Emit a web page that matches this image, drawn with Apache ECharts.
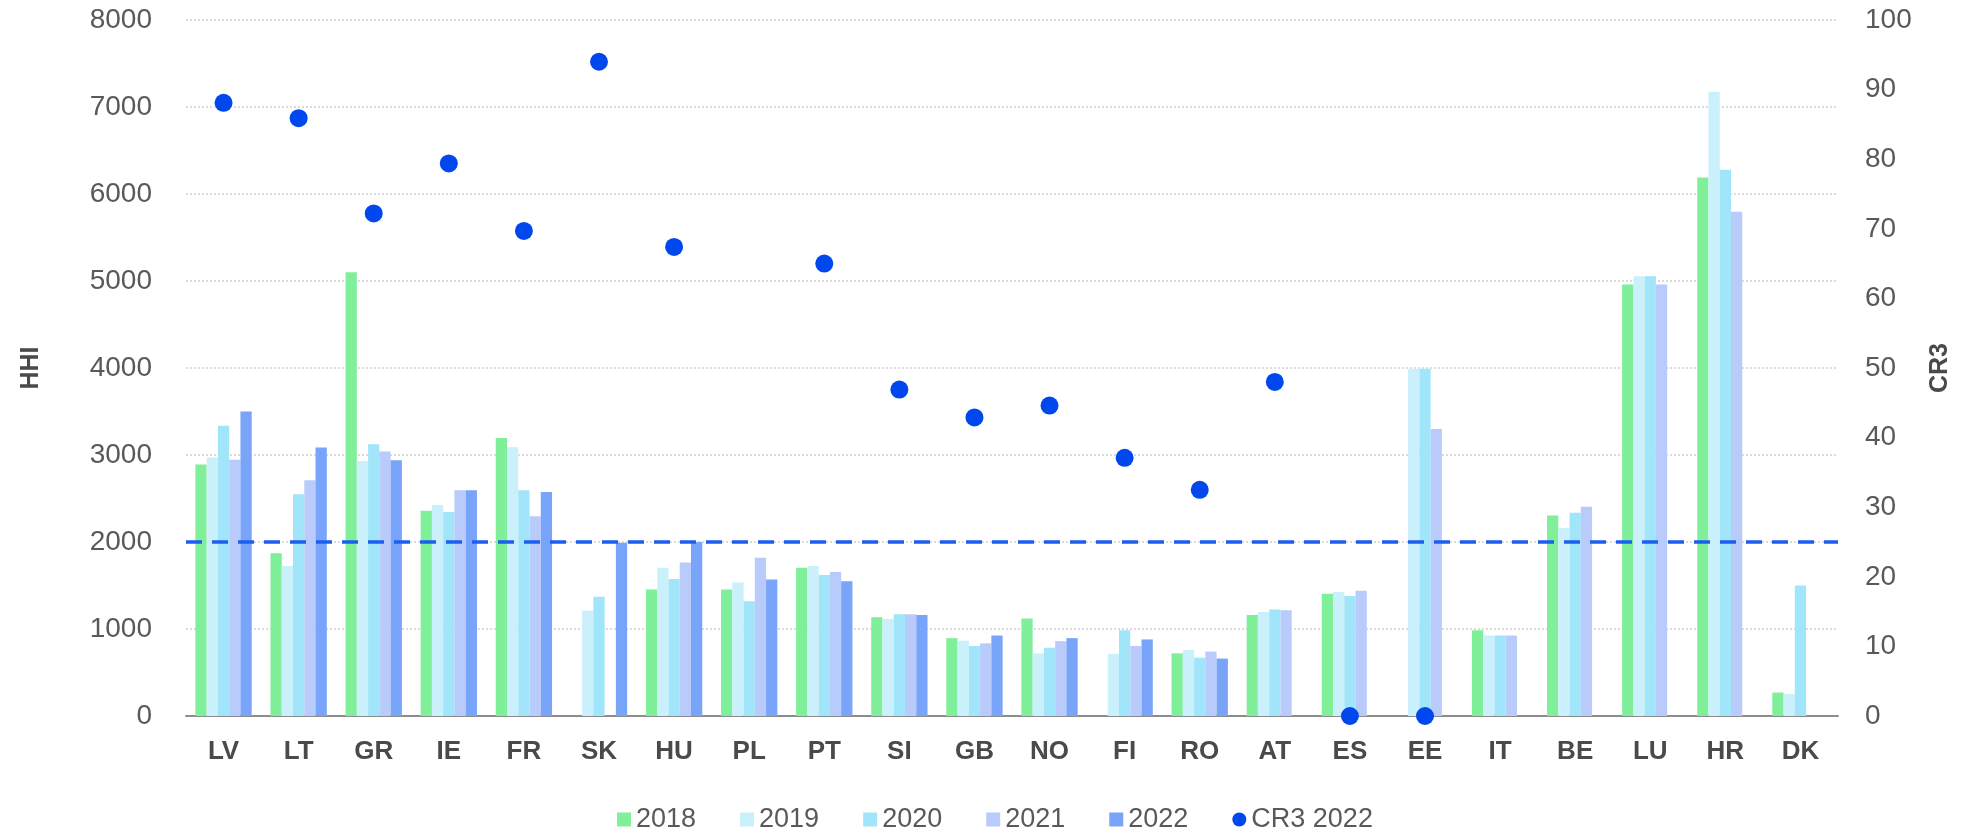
<!DOCTYPE html>
<html>
<head>
<meta charset="utf-8">
<script src="https://cdn.jsdelivr.net/npm/echarts@6/dist/echarts.min.js"></script>
<style>
html,body{margin:0;padding:0;background:#fff;}
#chart{width:1967px;height:832px;}
</style>
</head>
<body>
<div id="chart"></div>
<script>
const categories = ['LV','LT','GR','IE','FR','SK','HU','PL','PT','SI','GB','NO','FI','RO','AT','ES','EE','IT','BE','LU','HR','DK'];
const hhi2018 = [2890,1870,5100,2360,3195,null,1455,1455,1705,1135,895,1120,null,720,1160,1405,null,985,2305,4960,6190,270];
const hhi2019 = [2970,1725,2930,2425,3090,1210,1705,1535,1725,1115,865,720,715,760,1195,1425,3990,925,2160,5055,7175,255];
const hhi2020 = [3335,2550,3125,2345,2595,1370,1575,1320,1620,1170,805,785,985,670,1225,1380,3990,925,2335,5055,6280,1500];
const hhi2021 = [2945,2710,3040,2595,2295,null,1765,1820,1655,1170,835,860,805,740,1215,1440,3300,925,2405,4960,5795,null];
const hhi2022 = [3500,3085,2940,2595,2575,1990,2000,1570,1550,1160,925,895,880,660,null,null,null,null,null,null,null,null];
const cr3_2022 = [88.1,85.9,72.2,79.4,69.7,94.0,67.4,null,65.0,46.9,42.9,44.6,37.1,32.5,48.0,0,0,null,null,null,null,null];
const threshold = 2000;
const leftTicks = {min:0, max:8000, interval:1000};
const rightTicks = {min:0, max:100, interval:10};

const colors = {
  y2018:'#80ef99', y2019:'#caf0fb', y2020:'#a1e5fb', y2021:'#b8cbfb', y2022:'#78a4fa', cr3:'#0048ee', line:'#1c5ff0'
};

const chart = echarts.init(document.getElementById('chart'), null, {renderer:'canvas'});
const labelFont = 'Liberation Sans, Arial, sans-serif';

function barSeries(name, data, color, extra){
  return Object.assign({
    name: name, type:'bar', data: data, yAxisIndex:0,
    itemStyle:{color: color},
    barGap:'0%', barCategoryGap:'25%',
    emphasis:{disabled:true}
  }, extra || {});
}

const option = {
  animation:false,
  backgroundColor:'#ffffff',
  grid:{left:186, right:129, top:20, bottom:116, containLabel:false},
  legend:{
    left:612, top:801,
    itemWidth:14, itemHeight:14, itemGap:44,
    textStyle:{fontSize:27, color:'#595959', fontFamily:labelFont},
    data:[
      {name:'2018', icon:'rect'},
      {name:'2019', icon:'rect'},
      {name:'2020', icon:'rect'},
      {name:'2021', icon:'rect'},
      {name:'2022', icon:'rect'},
      {name:'CR3 2022', icon:'circle'}
    ]
  },
  xAxis:{
    type:'category', data: categories,
    axisLine:{show:true, lineStyle:{color:'#8c8c8c', width:2}},
    axisTick:{show:false},
    axisLabel:{fontSize:26, fontWeight:'bold', color:'#4a4a4a', margin:23, fontFamily:labelFont, interval:0}
  },
  yAxis:[
    {
      type:'value', min:leftTicks.min, max:leftTicks.max, interval:leftTicks.interval,
      name:'HHI', nameLocation:'middle', nameGap:142, nameRotate:90,
      nameTextStyle:{fontSize:25, fontWeight:'bold', color:'#4a4a4a', fontFamily:labelFont},
      axisLine:{show:false}, axisTick:{show:false},
      axisLabel:{fontSize:28, color:'#595959', margin:34, fontFamily:labelFont, formatter:function(v){return String(v);}},
      splitLine:{show:true, lineStyle:{color:'#d0d0d0', type:[2,2], width:1.5}}
    },
    {
      type:'value', min:rightTicks.min, max:rightTicks.max, interval:rightTicks.interval,
      name:'CR3', nameLocation:'middle', nameGap:90, nameRotate:90,
      nameTextStyle:{fontSize:25, fontWeight:'bold', color:'#4a4a4a', fontFamily:labelFont},
      axisLine:{show:false}, axisTick:{show:false},
      axisLabel:{fontSize:28, color:'#595959', margin:27, fontFamily:labelFont, formatter:function(v){return String(v);}},
      splitLine:{show:false}
    }
  ],
  series:[
    barSeries('2018', hhi2018, colors.y2018),
    barSeries('2019', hhi2019, colors.y2019),
    barSeries('2020', hhi2020, colors.y2020),
    barSeries('2021', hhi2021, colors.y2021),
    barSeries('2022', hhi2022, colors.y2022, {
      markLine:{
        silent:true, symbol:['none','none'], label:{show:false},
        lineStyle:{color:colors.line, type:[16,10], width:3.5, opacity:1},
        data:[{yAxis: threshold}]
      }
    }),
    {
      name:'CR3 2022', type:'scatter', yAxisIndex:1, data: cr3_2022,
      symbol:'circle', symbolSize:18, z:10,
      itemStyle:{color:colors.cr3, opacity:1},
      emphasis:{disabled:true}
    }
  ]
};
chart.setOption(option);
</script>
</body>
</html>
